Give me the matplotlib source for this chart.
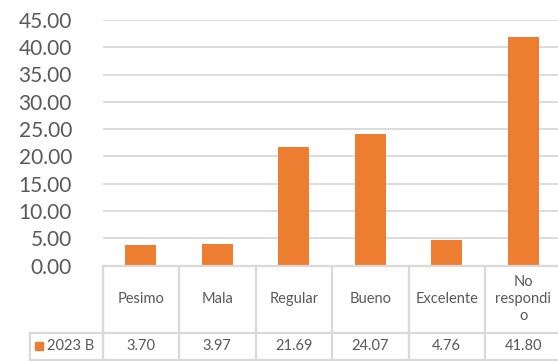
import matplotlib
matplotlib.use("Agg")
import matplotlib.pyplot as plt
from matplotlib import transforms
import numpy as np

categories = ["Pesimo", "Mala", "Regular", "Bueno", "Excelente", "No\nrespondi\no"]
values = [3.70, 3.97, 21.69, 24.07, 4.76, 41.80]
value_labels = ["3.70", "3.97", "21.69", "24.07", "4.76", "41.80"]
series_name = "2023 B"
yticks = [0, 5, 10, 15, 20, 25, 30, 35, 40, 45]

W, H = 558, 361
BAR = "#ED7D31"
GRID = "#D9D9D9"
TXT = "#595959"
FONT = "Lato"

fig = plt.figure(figsize=(W / 100, H / 100), dpi=100)

def fx(px):
    return px / W

def fy(py):
    return 1 - py / H

left, right = 102.5, 561.5
top, bottom = 19.9, 265.6
ax = fig.add_axes([fx(left), fy(bottom), fx(right) - fx(left), fy(top) - fy(bottom)])

x = np.arange(len(categories))
ax.bar(x, values, width=0.4, color=BAR, zorder=3)
ax.set_xlim(-0.5, len(categories) - 0.5)
ax.set_ylim(0, 45)
ax.set_yticks(yticks)
ax.set_yticklabels([f"{v:.2f}" for v in yticks], fontsize=15, color=TXT, family=FONT)
ax.tick_params(axis="y", length=0, pad=22)
ax.set_xticks([])
ax.grid(axis="y", color=GRID, linewidth=1.3, zorder=0)
for s in ax.spines.values():
    s.set_visible(False)

# Table
tr = transforms.blended_transform_factory(ax.transData, fig.transFigure)
row1_top, row1_bot, row2_bot = 265.6, 332.7, 359.7
legend_left = 30
lw = 1.6

def hline(y, x0px, x1px):
    fig.add_artist(plt.Line2D([fx(x0px), fx(x1px)], [fy(y), fy(y)], color=GRID, lw=lw,
                              transform=fig.transFigure))

def vline(xpx, y0, y1):
    fig.add_artist(plt.Line2D([fx(xpx), fx(xpx)], [fy(y0), fy(y1)], color=GRID, lw=lw,
                              transform=fig.transFigure))

hline(row1_top, left, W + 5)
hline(row1_bot, legend_left, W + 5)
hline(row2_bot, legend_left, W + 5)
vline(legend_left, row1_bot, row2_bot)
colw = (right - left) / len(categories)
for i in range(len(categories) + 1):
    vline(left + i * colw, row1_top, row2_bot)

for i, (c, v) in enumerate(zip(categories, value_labels)):
    fig.text(i, fy((row1_top + row1_bot) / 2), c, transform=tr, ha="center", va="center",
             fontsize=10.5, color=TXT, family=FONT, linespacing=1.3)
    fig.text(i, fy((row1_bot + row2_bot) / 2), v, transform=tr, ha="center", va="center",
             fontsize=10.5, color=TXT, family=FONT)

# legend cell
mid = (row1_bot + row2_bot) / 2
fig.add_artist(plt.Rectangle((fx(35), fy(mid + 4)), fx(8), 8 / H, color=BAR,
                             transform=fig.transFigure))
fig.text(fx(47), fy(mid), series_name, ha="left", va="center", fontsize=10.5, color=TXT, family=FONT)

fig.savefig("out.png", dpi=100)
